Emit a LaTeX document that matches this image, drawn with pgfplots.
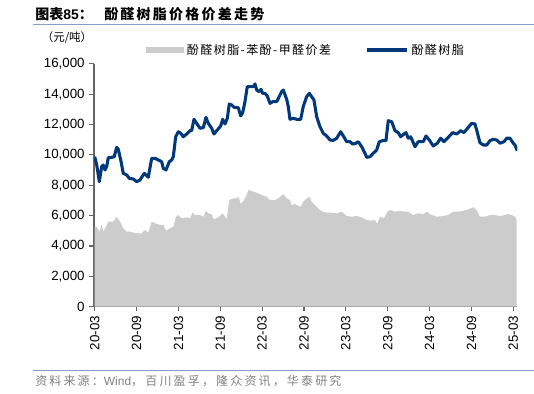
\documentclass[border=0pt]{standalone}
\usepackage{fontspec}
\setmainfont{Liberation Sans}
\newfontfamily\cjk{Noto Sans CJK SC}
\newfontfamily\cjktitle[LetterSpace=16]{Noto Sans CJK SC}
\newfontfamily\cjkleg[LetterSpace=12]{Noto Sans CJK SC}
\newfontfamily\cjksrc[LetterSpace=18]{Noto Sans CJK SC}
\usepackage{pgfplots}
\usepackage{pgfplotstable}
\pgfplotsset{compat=1.18}
\definecolor{lineblue}{RGB}{0,56,122}
\definecolor{areagray}{RGB}{204,204,204}
\definecolor{rulecol}{RGB}{132,160,196}
\definecolor{axgray}{RGB}{100,100,100}
\definecolor{srcgray}{RGB}{128,128,128}

\pgfplotstableread{
m v
0 9880
0.29 9340
0.66 8240
1.0 9230
1.23 9340
1.48 9010
1.72 9230
1.95 9820
2.44 9845
2.8 9880
3.15 10500
3.38 10370
3.73 9670
4.10 8790
4.59 8680
4.96 8460
5.53 8415
6.02 8240
6.49 8350
7.11 8790
7.68 8530
8.17 9780
8.64 9780
9.12 9670
9.60 9555
9.83 9120
10.22 9010
10.69 9555
11.04 9670
11.27 9885
11.61 11200
11.98 11530
12.33 11430
12.70 11200
13.19 11380
13.66 11600
13.90 11600
14.23 12350
14.62 12085
15.09 11760
15.57 11800
15.95 12480
16.28 12085
16.77 11760
17.10 11380
17.49 11600
18.06 11910
18.35 12350
18.68 12040
19.01 12415
19.29 13360
19.64 13290
19.97 13140
20.58 13115
20.93 12570
21.21 12785
21.54 13510
21.87 14500
22.26 14500
22.73 14500
22.98 14675
23.22 14280
23.55 14170
23.84 14325
24.08 14060
24.41 14060
24.74 13885
25.13 13400
25.51 13510
26.09 13510
26.80 14170
27.03 14280
27.52 13670
27.75 13180
27.99 12350
28.47 12415
28.95 12350
29.53 12350
29.90 13200
30.38 13840
30.76 14060
31.10 13840
31.43 13620
31.82 12520
32.29 11860
32.76 11430
33.25 11250
33.73 10985
34.20 10960
34.69 11100
35.26 11530
35.64 11250
36.12 10875
36.59 10875
36.98 10720
37.40 10760
37.78 10875
38.27 10545
38.74 10110
38.99 9845
39.46 9885
39.93 10110
40.42 10325
40.79 10875
41.28 10940
41.75 10940
42.08 12260
42.57 12190
43.04 11600
43.52 11470
43.86 11200
44.33 11380
44.62 11470
44.95 11100
45.29 11200
45.91 10545
46.38 10875
47.10 10875
47.49 11250
47.96 10985
48.53 10590
49.11 10770
49.59 11100
50.07 10875
50.68 11160
51.31 11470
51.89 11380
52.46 11600
52.93 11470
53.55 11820
54.04 12085
54.51 12040
54.75 11645
55.22 10810
55.70 10655
56.19 10655
56.66 10940
57.13 11030
57.62 10985
58.09 10770
58.67 10875
59.05 11100
59.53 11100
60.00 10770
60.24 10655
60.57 10280
}\resin

\pgfplotstableread{
m v
0 5270
0.29 5270
0.66 4940
1.0 5385
1.23 4940
1.62 5270
1.95 5600
2.67 5600
3.15 5930
3.63 5600
4.10 5165
4.59 4940
5.06 4940
5.53 4875
6.25 4840
6.74 4840
7.21 5055
7.68 4875
8.17 5600
8.64 5495
9.36 5385
9.83 5385
10.22 5010
10.79 5165
11.27 5270
11.65 5930
11.98 6040
12.47 5825
13.19 5890
13.66 5825
14.05 6195
14.38 6040
15.09 6040
15.57 5930
15.95 6325
16.28 6150
16.77 6100
17.10 5760
17.72 5890
18.35 6150
18.68 5930
18.92 5760
19.29 7030
19.87 7140
20.35 7140
20.58 7295
20.93 6770
21.40 7030
21.79 7360
22.02 7690
22.73 7580
23.45 7470
23.94 7360
24.65 7250
25.13 7030
25.84 7030
26.32 7140
27.03 7425
27.52 7140
27.99 7030
28.23 6700
28.71 6770
29.18 6635
29.53 6590
29.90 6920
30.39 7140
30.76 7250
31.10 6920
31.82 6590
32.29 6370
32.76 6260
33.25 6195
33.97 6195
34.69 6150
35.40 6260
36.12 5975
36.84 5930
37.55 5975
38.27 5890
38.99 5715
39.70 5670
40.18 5715
40.51 5450
40.89 5930
41.47 5825
41.94 6260
42.43 6370
43.04 6260
43.76 6325
44.23 6260
44.95 6260
45.67 6040
46.38 6150
47.10 6100
47.59 6260
48.30 6040
49.02 5930
49.97 5975
50.68 6040
51.40 6260
52.12 6260
52.83 6325
53.55 6415
54.27 6550
54.75 6370
55.22 5930
55.94 5930
56.66 6040
57.37 6040
58.09 5975
58.81 6040
59.28 6110
59.76 6040
60.24 5930
60.48 5715
}\spread

\begin{document}
\begin{tikzpicture}
\begin{axis}[
  at={(0,0)}, anchor=south west,
  scale only axis, width=317.6pt, height=182.1pt,
  xmin=-0.1, xmax=60.6, ymin=0, ymax=16000,
  axis lines*=left,
  axis line style={axgray, line width=0.9pt},
  tick style={axgray, line width=0.8pt},
  tick align=outside, major tick length=3.5pt,
  xtick={0,6,...,60},
  xticklabels={20-03,20-09,21-03,21-09,22-03,22-09,23-03,23-09,24-03,24-09,25-03},
  x tick label style={rotate=90, anchor=east, font=\fontsize{10}{12}\selectfont},
  ytick={0,2000,...,16000},
  scaled y ticks=false,
  y tick label style={font=\fontsize{10}{12}\selectfont, /pgf/number format/1000 sep={,}},
  /pgf/number format/assume math mode=true,
  legend columns=2,
  legend cell align=left,
  legend style={at={(axis description cs:0.1228,1.0573)}, anchor=west,
    draw=none, fill=none, inner sep=0pt,
    font=\fontsize{9}{11}\selectfont\cjkleg,
    /tikz/every even column/.append style={column sep=24pt}},
]
\addplot[fill=areagray, draw=none,
  legend image code/.code={\fill[areagray] (0pt,-2.25pt) rectangle (28.5pt,2.25pt);}]
  table[x=m,y=v]{\spread} \closedcycle;
\addlegendentry{酚醛树脂-苯酚-甲醛价差}
\addplot[lineblue, line width=2.3pt, line join=round,
  legend image code/.code={\draw[lineblue, line width=2.3pt] (0pt,0pt) -- (30pt,0pt);}]
  table[x=m,y=v]{\resin};
\addlegendentry{酚醛树脂}
\end{axis}
\begin{scope}[x=0.75pt,y=-0.75pt,shift={(-70.5pt,230.025pt)}]
  \node[anchor=west, inner sep=0pt] at (35,14)
    {\fontsize{10.5}{12}\selectfont\bfseries\cjk 图表\rmfamily\bfseries 85\cjk\bfseries ：};
  \node[anchor=west, inner sep=0pt] at (104,14)
    {\fontsize{10.5}{12}\selectfont\cjktitle\bfseries 酚醛树脂价格价差走势};
  \draw[rulecol, line width=1pt] (33,24.5) -- (534,24.5);
  \node[inner sep=0pt] at (67,38) {\fontsize{8.6}{10}\selectfont\cjk （元/吨）};
  \draw[rulecol, line width=1pt] (33,370.5) -- (534,370.5);
  \node[anchor=west, inner sep=0pt, text=srcgray] at (35,381)
    {\fontsize{9}{11}\selectfont\cjksrc 资料来源：{\rmfamily Wind}，百川盈孚，隆众资讯，华泰研究};
  \pgfresetboundingbox
  \path (0,0) rectangle (534,393);
\end{scope}
\end{tikzpicture}
\end{document}
